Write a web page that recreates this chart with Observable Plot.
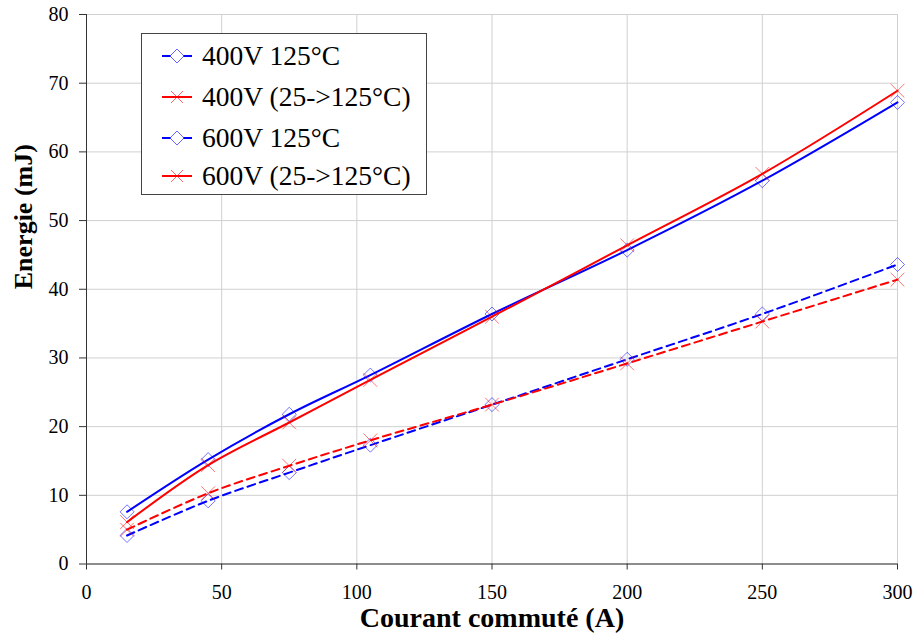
<!DOCTYPE html>
<html><head><meta charset="utf-8">
<script src="https://cdn.jsdelivr.net/npm/d3@7"></script>
<script src="https://cdn.jsdelivr.net/npm/@observablehq/plot@0.6"></script>
<style>
html,body{margin:0;padding:0;background:#fff;}
#wrap{position:relative;width:916px;height:642px;font-family:'Liberation Serif', Times, serif;}
#wrap svg, #wrap svg text{font-family:'Liberation Serif', Times, serif !important;}
#legend{position:absolute;left:141px;top:33px;width:284px;height:160px;border:1px solid #444;background:#fff;}
.row{position:absolute;left:0;height:32px;display:flex;align-items:center;white-space:nowrap;}
.row svg{margin-left:20px;}
.row span{font-size:27.5px;margin-left:10px;color:#000;}
</style></head>
<body><div id="wrap"></div>
<script>
// Data
const current = [15, 45, 75, 105, 150, 200, 250, 300];
const e400_125 = [4.15, 9.2, 13.3, 17.3, 23.2, 29.8, 36.4, 43.6];
const e400_25to125 = [5.0, 10.3, 14.3, 18.0, 23.2, 29.2, 35.3, 41.4];
const e600_125 = [7.6, 15.2, 21.8, 27.5, 36.4, 45.7, 55.8, 67.2];
const e600_25to125 = [6.1, 14.4, 20.6, 26.8, 36.0, 46.4, 56.8, 68.9];
const seriesNames = ["400V 125°C", "400V (25->125°C)", "600V 125°C", "600V (25->125°C)"];
const seriesValues = [e400_125, e400_25to125, e600_125, e600_25to125];
const xTicks = [0, 50, 100, 150, 200, 250, 300];
const yTicks = [0, 10, 20, 30, 40, 50, 60, 70, 80];
const xLabel = "Courant commuté (A)";
const yLabel = "Energie (mJ)";

// styles (not data)
const seriesColors = ["#0000ff", "#ff0000", "#0000ff", "#ff0000"];
const seriesDash = ["8,5", "8,5", null, null];
const seriesSymbol = ["diamond2", "times", "diamond2", "times"];

const rows = seriesNames.flatMap((s, i) => current.map((c, j) => ({series: s, x: c, y: seriesValues[i][j]})));

const marks = [
  Plot.gridX(xTicks, {stroke: "#d0d0d0", strokeOpacity: 1}),
  Plot.gridY(yTicks, {stroke: "#d0d0d0", strokeOpacity: 1}),
  Plot.ruleX([0], {stroke: "#333"}),
  Plot.ruleY([0], {stroke: "#333"}),
  Plot.axisX(xTicks, {tickSize: 6, tickPadding: 15, fontSize: 20, stroke: "#333", label: null}),
  Plot.axisY(yTicks, {tickSize: 7, tickPadding: 11, fontSize: 20, stroke: "#333", label: null}),
];
seriesNames.forEach((s, i) => {
  const d = rows.filter(r => r.series === s);
  marks.push(Plot.line(d, {x: "x", y: "y", stroke: seriesColors[i], strokeWidth: 2,
    strokeDasharray: seriesDash[i] || undefined, curve: "catmull-rom"}));
  marks.push(Plot.dot(d, {x: "x", y: "y", symbol: seriesSymbol[i], r: 6.3, stroke: seriesColors[i],
    strokeOpacity: 0.55, strokeWidth: 1, fill: "none"}));
});
marks.push(Plot.text([yLabel], {frameAnchor: "left", dx: -63, rotate: -90, fontSize: 26, fontWeight: "bold", fill: "#000"}));
marks.push(Plot.text([xLabel], {frameAnchor: "bottom", dy: 63, fontSize: 28, fontWeight: "bold", fill: "#000"}));

const chart = Plot.plot({
  width: 916, height: 642,
  marginLeft: 86, marginRight: 19, marginTop: 14, marginBottom: 78.5,
  style: {fontSize: "20px", color: "#000", background: "#fff"},
  x: {domain: [0, 300]},
  y: {domain: [0, 80]},
  marks
});
const wrap = document.getElementById("wrap");
wrap.appendChild(chart);

// Legend
const legend = document.createElement("div");
legend.id = "legend";
const rowTops = [6, 47, 88, 126];
seriesNames.forEach((s, i) => {
  const row = document.createElement("div");
  row.className = "row";
  row.style.top = rowTops[i] + "px";
  const sw = d3.create("svg").attr("width", 30).attr("height", 20);
  sw.append("line").attr("x1", 0).attr("x2", 30).attr("y1", 10).attr("y2", 10)
    .attr("stroke", seriesColors[i]).attr("stroke-width", 2);
  if (seriesSymbol[i] === "diamond2") {
    sw.append("path").attr("d", "M15,3L22,10L15,17L8,10Z").attr("fill", "#fff").attr("stroke", seriesColors[i]).attr("stroke-opacity", 0.6);
  } else {
    sw.append("path").attr("d", "M9,4L21,16M21,4L9,16").attr("stroke", seriesColors[i]).attr("stroke-opacity", 0.6);
  }
  row.appendChild(sw.node());
  const t = document.createElement("span");
  t.textContent = s;
  row.appendChild(t);
  legend.appendChild(row);
});
wrap.appendChild(legend);
</script>
</body></html>
